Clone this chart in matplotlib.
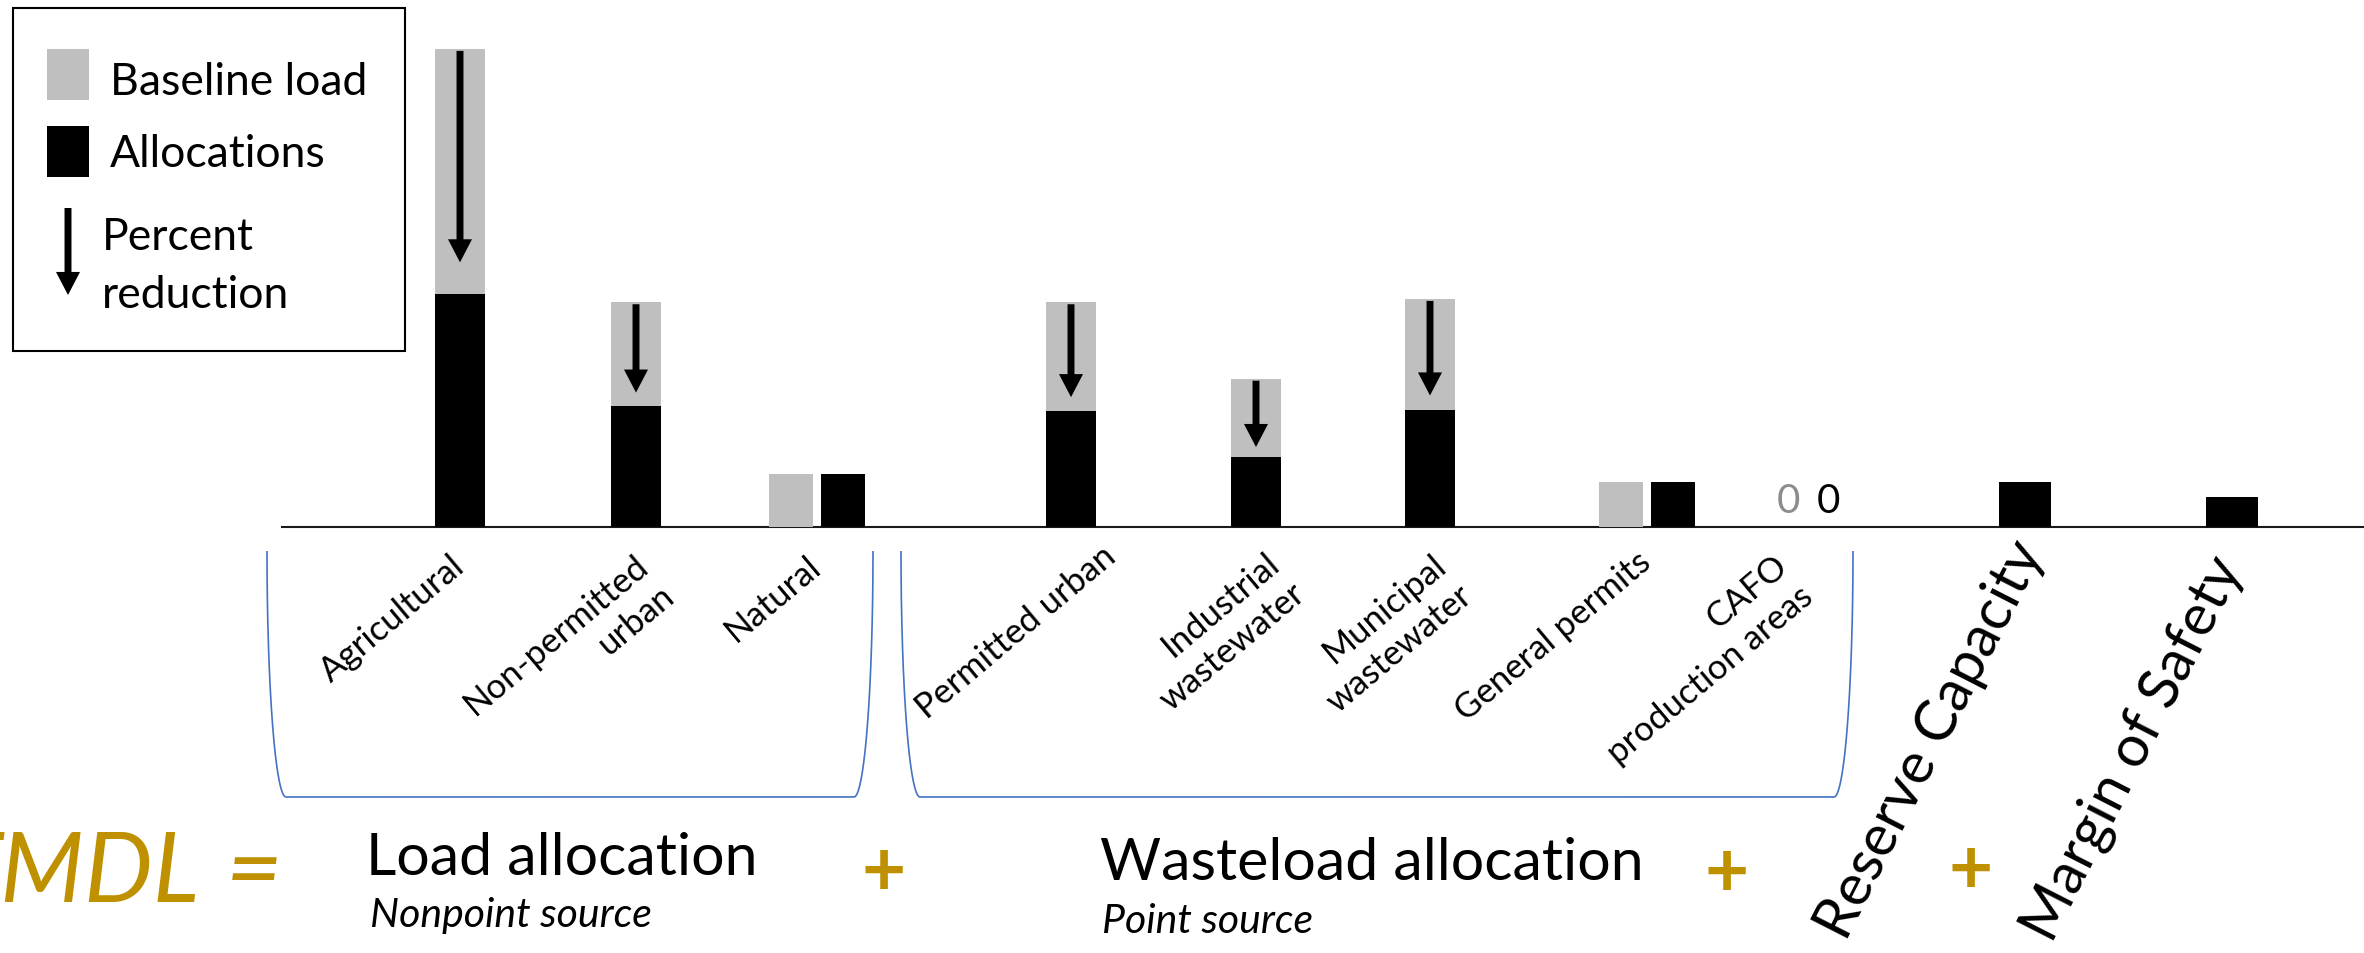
import numpy as np
import matplotlib
matplotlib.use("Agg")
import matplotlib.pyplot as plt
from matplotlib.patches import FancyArrowPatch, Rectangle

# ---------------- data ----------------
categories = ["Agricultural", "Non-permitted\nurban", "Natural", "Permitted urban",
              "Industrial\nwastewater", "Municipal\nwastewater", "General permits",
              "CAFO\nproduction areas", "Reserve Capacity", "Margin of Safety"]
baseline_load = [100.0, 47.0, 11.0, 47.0, 31.0, 47.7, 9.4, 0.0, np.nan, np.nan]
allocations = [48.7, 25.3, 11.0, 24.2, 14.6, 24.5, 9.4, 0.0, 9.4, 6.3]

legend_labels = ["Baseline load", "Allocations", "Percent\nreduction"]

# ---------------- layout (figure pixels, origin top-left) ----------------
W, H, DPI = 2364, 954, 100
AX_LEFT, BASE_Y = 282, 528
PX_PER_UNIT = 4.78
slot_x = [460, 636, 817, 1071, 1256, 1430, 1647, 1808, 2025, 2232]
label_anchor = [(450, 550), (634, 549), (806, 550), (1101, 540), (1265, 547),
                (1432, 549), (1636, 546), (1773, 550), (2007, 533), (2205, 548)]
label_rot = [40] * 8 + [63] * 2
label_size = [25] * 8 + [41.5] * 2

GREY = "#BFBFBF"
GOLD = "#BF9000"
BLUE = "#4472C4"
FONT = "Lato"
plt.rcParams["font.family"] = [FONT, "DejaVu Sans"]

fig = plt.figure(figsize=(W / DPI, H / DPI), dpi=DPI)

# bar chart axes: x in figure-pixel slots, y in load units
ax = fig.add_axes([AX_LEFT / W, (H - BASE_Y) / H, (W - AX_LEFT) / W, BASE_Y / H])
ax.set_xlim(AX_LEFT, W)
ax.set_ylim(0, BASE_Y / PX_PER_UNIT)
for side in ("left", "right", "top"):
    ax.spines[side].set_visible(False)
ax.spines["bottom"].set_linewidth(1.5)
ax.spines["bottom"].set_color("#1a1a1a")
ax.set_xticks([])
ax.set_yticks([])
ax.patch.set_visible(False)

ARROW_STYLE = "simple,head_length=16.6,head_width=17.3,tail_width=5"

for i, x in enumerate(slot_x):
    b, a = baseline_load[i], allocations[i]
    if np.isnan(b):
        ax.bar(x, a, width=52, color="black", zorder=3)
    elif b == 0 and a == 0:
        ax.bar([x - 20, x + 20], [b, a], width=30, color=[GREY, "black"], zorder=3)
        ax.text(x - 20, b + 3.1, f"{b:g}", color="#8C8C8C", ha="center",
                va="baseline", fontsize=29, zorder=4)
        ax.text(x + 20, a + 3.1, f"{a:g}", color="black", ha="center",
                va="baseline", fontsize=29, zorder=4)
    elif b > a:
        ax.bar(x, b, width=50, color=GREY, zorder=3)
        ax.bar(x, a, width=50, color="black", zorder=3)
        arr = FancyArrowPatch((x, b - 0.4), (x, a + 0.13 * (b - a)),
                              arrowstyle=ARROW_STYLE, mutation_scale=1,
                              color="black", lw=0, shrinkA=0, shrinkB=0, zorder=4)
        ax.add_patch(arr)
    else:
        ax.bar(x - 26, b, width=44, color=GREY, zorder=3)
        ax.bar(x + 26, a, width=44, color="black", zorder=3)

# overlay in figure pixels for annotations
ov = fig.add_axes([0, 0, 1, 1])
ov.set_xlim(0, W)
ov.set_ylim(H, 0)
ov.axis("off")
ov.patch.set_visible(False)

# category labels
for (lx, ly), lab, rot, fs in zip(label_anchor, categories, label_rot, label_size):
    ov.text(lx, ly, lab, rotation=rot, ha="right", va="top", rotation_mode="anchor",
            multialignment="right", fontsize=fs, linespacing=1.3, color="black")

# legend box
ov.add_patch(Rectangle((13, 9), 392, 343, fill=False, edgecolor="black", lw=1.5))
ov.add_patch(Rectangle((47, 50), 42, 51, facecolor=GREY, edgecolor="none"))
ov.add_patch(Rectangle((47, 127), 42, 51, facecolor="black", edgecolor="none"))
ov.add_patch(FancyArrowPatch((68, 209), (68, 296), arrowstyle=ARROW_STYLE,
                             mutation_scale=1, color="black", lw=0,
                             shrinkA=0, shrinkB=0))
ov.text(110, 95, legend_labels[0], fontsize=32, va="baseline")
ov.text(110, 167, legend_labels[1], fontsize=32, va="baseline")
for line, base in zip(legend_labels[2].split("\n"), (250, 308)):
    ov.text(102, base, line, fontsize=32, va="baseline")


# group brackets
def bracket(x0, x1, top, bottom, rx):
    t = np.linspace(0, np.pi / 2, 80)
    ry = bottom - top
    lx = x0 + rx - rx * np.cos(t)
    ly = top + ry * np.sin(t)
    rxs = x1 - rx + rx * np.cos(t[::-1])
    rys = top + ry * np.sin(t[::-1])
    ov.plot(np.concatenate([lx, rxs]), np.concatenate([ly, rys]),
            color=BLUE, lw=1.2, solid_capstyle="butt")


bracket(267, 873, 552, 798, 19)
bracket(901, 1853, 552, 798, 19)

# TMDL equation
ov.text(200, 902, "TMDL", color=GOLD, fontsize=70, style="italic",
        ha="right", va="baseline")
ov.text(254, 902, "=", color=GOLD, fontsize=70, style="italic",
        ha="center", va="baseline")
ov.text(366, 875, "Load allocation", fontsize=42.5, va="baseline")
ov.text(370, 927, "Nonpoint source", fontsize=29.5, style="italic", va="baseline")
ov.text(1100, 880, "Wasteload allocation", fontsize=42.5, va="baseline")
ov.text(1102, 933, "Point source", fontsize=29.5, style="italic", va="baseline")
for px, py in [(884, 870), (1727, 871), (1971, 868)]:
    ov.text(px, py + 25, "+", color=GOLD, fontsize=55, fontweight="bold",
            ha="center", va="baseline")

fig.savefig("out.png", dpi=DPI)
